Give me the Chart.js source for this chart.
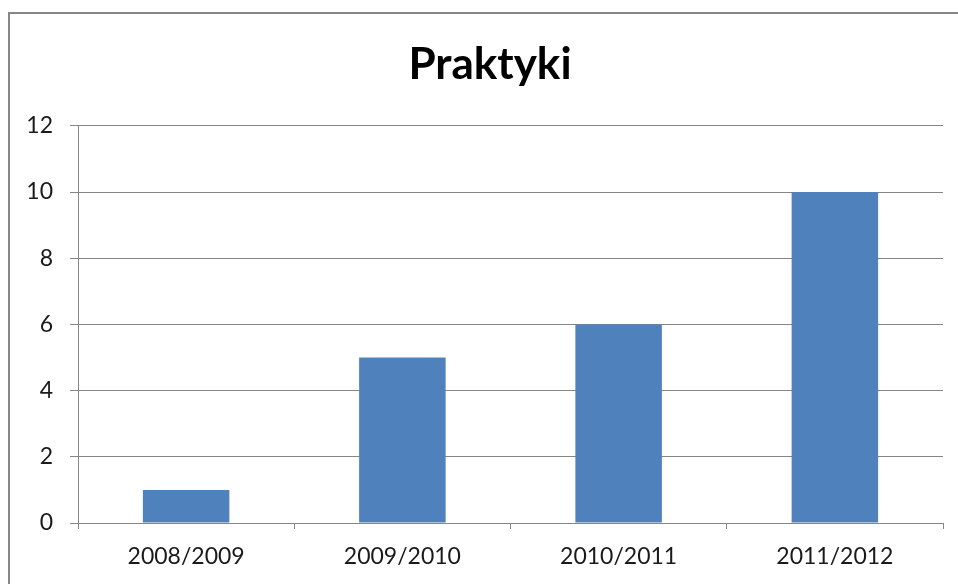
<!DOCTYPE html>
<html>
<head>
<meta charset="utf-8">
<script src="https://cdn.jsdelivr.net/npm/chart.js@4/dist/chart.umd.min.js"></script>
<style>
  html, body { margin: 0; padding: 0; background: #fff; overflow: hidden; }
  #wrap { position: absolute; left: 0; top: 0; width: 958px; height: 584px; }
  #frame { position: absolute; left: 8px; top: 12px; width: 1000px; height: 700px; border: 2px solid #868686; box-sizing: border-box; }
  canvas { position: absolute; left: 0; top: 0; }
</style>
</head>
<body>
<div id="wrap">
  <div id="frame"></div>
  <canvas id="c" width="958" height="584"></canvas>
</div>
<script>
const chartTitle = "Praktyki";
const categories = ["2008/2009", "2009/2010", "2010/2011", "2011/2012"];
const values = [1, 5, 6, 10];
const yMin = 0, yMax = 12, yStep = 2;

const axisGray = "#868686";

const titleShift = {
  id: "titleShift",
  afterLayout(chart) {
    if (chart.titleBlock) { chart.titleBlock.left = 37; }
  }
};

new Chart(document.getElementById("c"), {
  type: "bar",
  data: {
    labels: categories,
    datasets: [{
      label: chartTitle,
      data: values,
      backgroundColor: "#4F81BD",
      borderWidth: 0,
      barPercentage: 0.4,
      categoryPercentage: 1.0
    }]
  },
  plugins: [titleShift],
  options: {
    responsive: false,
    animation: false,
    devicePixelRatio: 1,
    layout: { padding: { left: 0, right: 15, top: 0, bottom: 0 } },
    plugins: {
      legend: { display: false },
      tooltip: { enabled: false },
      title: {
        display: true,
        text: chartTitle,
        color: "#000",
        font: { family: "Lato", size: 44, weight: "bold", lineHeight: 1.2 },
        padding: { top: 38, bottom: 35 }
      }
    },
    scales: {
      x: {
        offset: true,
        grid: { display: true, offset: true, drawOnChartArea: false, drawTicks: true, tickLength: 6, color: axisGray, lineWidth: 1 },
        border: { display: true, color: axisGray, width: 1 },
        ticks: { color: "#1a1a1a", font: { family: "Lato", size: 23 }, padding: 14, maxRotation: 0 },
        afterFit: (s) => { s.height = 61; }
      },
      y: {
        min: yMin, max: yMax,
        grid: { color: axisGray, lineWidth: 1, tickLength: 8, drawTicks: true },
        border: { display: true, color: axisGray, width: 1 },
        ticks: { stepSize: yStep, color: "#1a1a1a", font: { family: "Lato", size: 23 }, padding: 17 },
        afterFit: (s) => { s.width = 78; }
      }
    }
  }
});
</script>
</body>
</html>
